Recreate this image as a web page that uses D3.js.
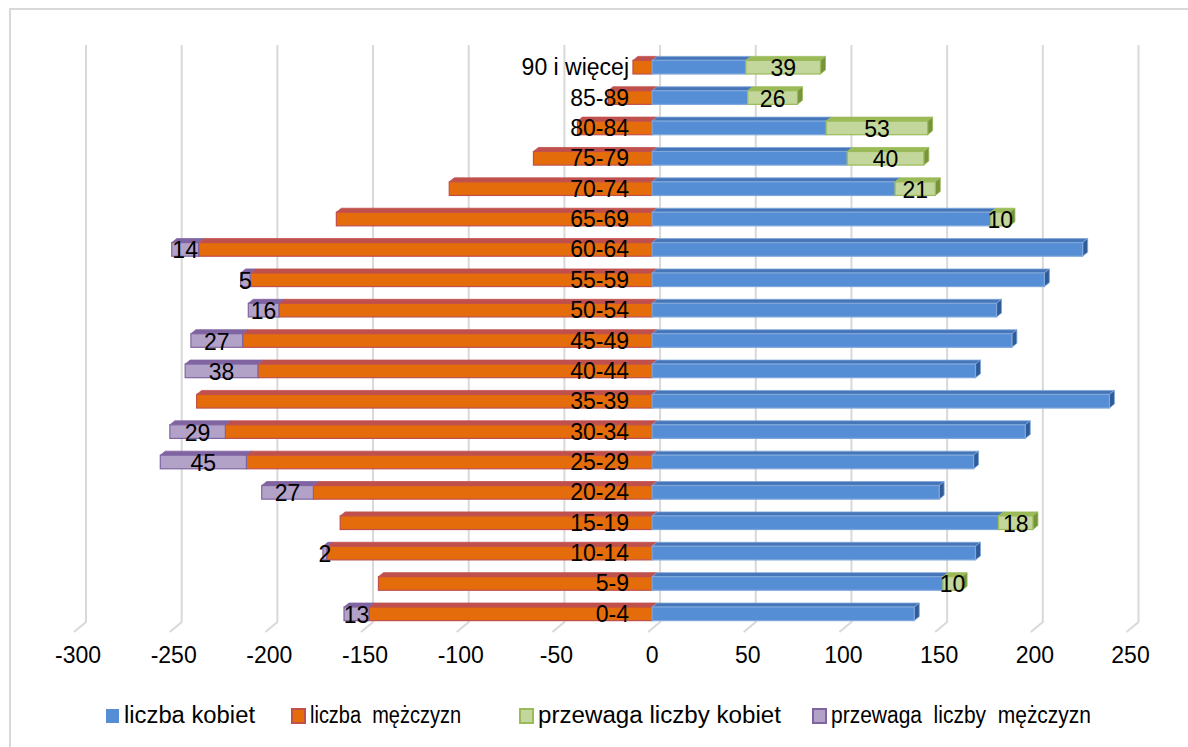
<!DOCTYPE html>
<html>
<head>
<meta charset="utf-8">
<script src="https://cdn.jsdelivr.net/npm/d3@7"></script>
<style>
  html, body { margin: 0; padding: 0; background: #fff; }
  svg { display: block; }
  text { font-family: "Liberation Sans", Arial, sans-serif; fill: #000; }
</style>
</head>
<body>
<svg id="chart" width="1188" height="747"></svg>
<script>
// Age groups, listed from the oldest (top row) to the youngest (bottom row)
const ageGroups = ["90 i więcej","85-89","80-84","75-79","70-74","65-69","60-64","55-59","50-54",
                   "45-49","40-44","35-39","30-34","25-29","20-24","15-19","10-14","5-9","0-4"];
// Number of women per age group
const women = [49, 50, 91, 102, 127, 177, 225, 205, 180, 188, 169, 239, 195, 168, 150, 181, 169, 152, 137];
// Number of men per age group (drawn to the left of zero)
const men = [10, 23, 39, 62, 106, 165, 237, 210, 195, 214, 206, 238, 223, 212, 177, 163, 170, 143, 148];
// Surplus of women over men
const womenSurplus = [39, 26, 53, 40, 21, 10, 0, 0, 0, 0, 0, 0, 0, 0, 0, 18, 0, 10, 0];
// Surplus of men over women
const menSurplus = [0, 0, 0, 0, 0, 0, 14, 5, 16, 27, 38, 0, 29, 45, 27, 0, 2, 0, 13];
// Axis tick values
const ticks = [-300, -250, -200, -150, -100, -50, 0, 50, 100, 150, 200, 250];
// Legend entries
const legendLabels = ["liczba kobiet", "liczba  mężczyzn", "przewaga liczby kobiet", "przewaga  liczby  mężczyzn"];

// Series styles: front face, top face, side face, outline
const styles = {
  women:        { front: "#558ED5", top: "#4676B8", side: "#2F5C96", stroke: "#7FA7DC" },
  men:          { front: "#E46C0A", top: "#C0504D", side: "#A33E1F", stroke: "#C0504D" },
  womenSurplus: { front: "#C3D69B", top: "#9BBB59", side: "#77933C", stroke: "#9BBB59" },
  menSurplus:   { front: "#B3A2C7", top: "#8064A2", side: "#604A7B", stroke: "#8064A2" }
};

const svg = d3.select("#chart");
const FONT = 23;

// Chart frame
svg.append("rect")
  .attr("x", 10).attr("y", 9).attr("width", 1200).attr("height", 760)
  .attr("fill", "none").attr("stroke", "#D9D9D9").attr("stroke-width", 2);

// Scales (front plane of the 3D plot)
const x = d3.scaleLinear().domain([-300, 250]).range([78, 1130.5]);
const y = d3.scaleBand().domain(ageGroups).range([50, 627]).paddingInner(0.42).paddingOuter(0.21);

// 3D depth offsets
const depth = { dx: 12, dy: 10 };     // wall / floor depth
const barDepth = { dx: 5, dy: 4 };    // bar top-face depth
const floorY = 632;

// Gridlines on the back wall with floor segment
const grid = svg.append("g");
ticks.forEach(t => {
  const fx = x(t) - 4;
  grid.append("path")
    .attr("d", `M${fx + depth.dx},45 L${fx + depth.dx},${floorY - depth.dy} L${fx},${floorY}`)
    .attr("fill", "none").attr("stroke", "#D9D9D9").attr("stroke-width", 2);
});

// Tick labels
svg.append("g").selectAll("text").data(ticks).join("text")
  .attr("x", d => x(d)).attr("y", 663)
  .attr("text-anchor", "middle").attr("font-size", FONT)
  .text(d => d);

// Build segments per row
const segments = [];
ageGroups.forEach((g, i) => {
  segments.push({ g, s: "men", v0: -men[i], v1: 0, outer: menSurplus[i] === 0 });
  if (menSurplus[i] > 0)
    segments.push({ g, s: "menSurplus", v0: -men[i] - menSurplus[i], v1: -men[i], outer: true, label: menSurplus[i] });
  segments.push({ g, s: "women", v0: 0, v1: women[i], outer: womenSurplus[i] === 0 });
  if (womenSurplus[i] > 0)
    segments.push({ g, s: "womenSurplus", v0: women[i], v1: women[i] + womenSurplus[i], outer: true, label: womenSurplus[i] });
});

const bars = svg.append("g");
const frontH = y.bandwidth() - barDepth.dy;

segments.forEach(d => {
  const st = styles[d.s];
  const x0 = x(d.v0), x1 = x(d.v1);
  const yt = y(d.g) + barDepth.dy;
  const yb = yt + frontH;
  // top face
  bars.append("path")
    .attr("d", `M${x0},${yt} L${x0 + barDepth.dx},${yt - barDepth.dy} L${x1 + barDepth.dx},${yt - barDepth.dy} L${x1},${yt} Z`)
    .attr("fill", st.top).attr("stroke", st.stroke).attr("stroke-width", 0.8);
  // side face on the outer right end
  if (d.outer && d.v1 > 0) {
    bars.append("path")
      .attr("d", `M${x1},${yt} L${x1 + barDepth.dx},${yt - barDepth.dy} L${x1 + barDepth.dx},${yb - barDepth.dy} L${x1},${yb} Z`)
      .attr("fill", st.side).attr("stroke", st.stroke).attr("stroke-width", 0.8);
  }
  // front face
  bars.append("rect")
    .attr("x", x0).attr("y", yt).attr("width", x1 - x0).attr("height", frontH)
    .attr("fill", st.front).attr("stroke", st.stroke).attr("stroke-width", 1.2);
});

// Age group labels next to the zero line
svg.append("g").selectAll("text").data(ageGroups).join("text")
  .attr("x", 629).attr("y", d => y(d) + barDepth.dy + frontH / 2 + 8)
  .attr("text-anchor", "end").attr("font-size", FONT)
  .text(d => d);

// Value labels on surplus segments
svg.append("g").selectAll("text").data(segments.filter(d => d.label)).join("text")
  .attr("x", d => (x(d.v0) + x(d.v1)) / 2)
  .attr("y", d => y(d.g) + barDepth.dy + frontH / 2 + 9)
  .attr("text-anchor", "middle").attr("font-size", FONT)
  .text(d => d.label);

// Legend
const legendKeys = ["women", "men", "womenSurplus", "menSurplus"];
const legendX = [106, 292, 520, 813];
const legendW = [131, 151, 243, 260];
const legend = svg.append("g");
legendKeys.forEach((k, i) => {
  legend.append("rect")
    .attr("x", legendX[i]).attr("y", 709).attr("width", 13).attr("height", 14)
    .attr("fill", styles[k].front).attr("stroke", k === "women" ? "none" : styles[k].stroke).attr("stroke-width", 2);
  legend.append("text")
    .attr("x", legendX[i] + 18).attr("y", 723)
    .attr("font-size", FONT)
    .attr("textLength", legendW[i]).attr("lengthAdjust", "spacingAndGlyphs")
    .style("white-space", "pre")
    .text(legendLabels[i]);
});
</script>
</body>
</html>
